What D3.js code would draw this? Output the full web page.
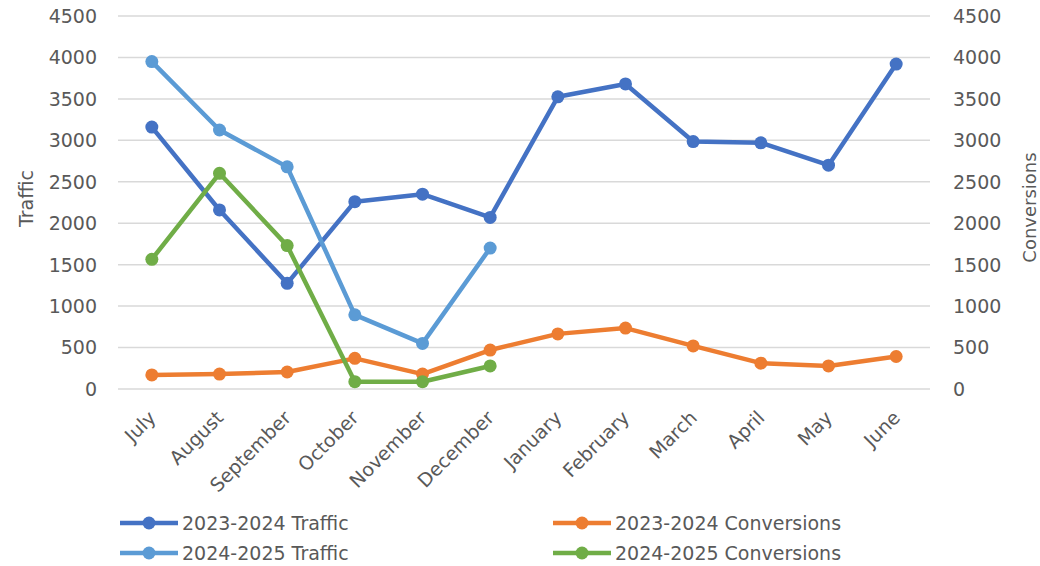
<!DOCTYPE html>
<html>
<head>
<meta charset="utf-8">
<script src="https://cdn.jsdelivr.net/npm/d3@7"></script>
<style>
    body { margin: 0; background: #fff; }
    text { font-family: "DejaVu Sans", sans-serif; fill: #595959; }
</style>
</head>
<body>
<div id="chart"></div>
<script>
var months = ["July", "August", "September", "October", "November", "December",
    "January", "February", "March", "April", "May", "June"];
var traffic2324 = [3160, 2160, 1275, 2260, 2350, 2070, 3525, 3680, 2985, 2970, 2700, 3920];
var traffic2425 = [3950, 3125, 2680, 895, 550, 1700];
var conv2324 = [170, 180, 205, 370, 180, 470, 665, 735, 520, 312, 278, 392];
var conv2425 = [1565, 2602, 1730, 88, 88, 278];
var yTicks = [0, 500, 1000, 1500, 2000, 2500, 3000, 3500, 4000, 4500];

var seriesList = [
    {name: "2023-2024 Traffic", values: traffic2324, color: "#4472C4", axis: "left"},
    {name: "2023-2024 Conversions", values: conv2324, color: "#ED7D31", axis: "right"},
    {name: "2024-2025 Traffic", values: traffic2425, color: "#5B9BD5", axis: "left"},
    {name: "2024-2025 Conversions", values: conv2425, color: "#70AD47", axis: "right"}
];

let margin = {top: 16, right: 110, bottom: 177, left: 118},
    width = 1040 - margin.left - margin.right,
    height = 566 - margin.top - margin.bottom;

var svg = d3.select("#chart").append("svg")
    .attr("width", 1040)
    .attr("height", 566)
    .append("g")
    .attr("transform", "translate(" + margin.left + "," + margin.top + ")");

var x = d3.scaleBand()
    .domain(months)
    .range([0, width]);

var yLeft = d3.scaleLinear().domain([0, 4500]).range([height, 0]);
var yRight = d3.scaleLinear().domain([0, 4500]).range([height, 0]);

// gridlines
svg.selectAll(".grid")
    .data(yTicks)
    .enter().append("line")
    .attr("x1", 0)
    .attr("x2", width)
    .attr("y1", function (d) { return yLeft(d); })
    .attr("y2", function (d) { return yLeft(d); })
    .attr("stroke", "#d9d9d9")
    .attr("stroke-width", 1.5);

// left axis labels
svg.selectAll(".ly")
    .data(yTicks)
    .enter().append("text")
    .attr("x", -21)
    .attr("y", function (d) { return yLeft(d); })
    .attr("dy", "0.36em")
    .attr("text-anchor", "end")
    .style("font-size", "19px")
    .text(function (d) { return d; });

// right axis labels
svg.selectAll(".ry")
    .data(yTicks)
    .enter().append("text")
    .attr("x", width + 23)
    .attr("y", function (d) { return yRight(d); })
    .attr("dy", "0.36em")
    .attr("text-anchor", "start")
    .style("font-size", "19px")
    .text(function (d) { return d; });

// month labels
svg.selectAll(".mx")
    .data(months)
    .enter().append("text")
    .attr("text-anchor", "end")
    .style("font-size", "19px")
    .attr("transform", function (d) {
        return "translate(" + (x(d) + x.bandwidth() / 2 + 5) + "," + (height + 30) + ") rotate(-45)";
    })
    .text(function (d) { return d; });

// axis titles
svg.append("text")
    .attr("transform", "translate(" + (-85) + "," + (height / 2 - 4) + ") rotate(-90)")
    .attr("text-anchor", "middle")
    .style("font-size", "19px")
    .text("Traffic");

svg.append("text")
    .attr("transform", "translate(" + (width + 106) + "," + (height / 2 + 5) + ") rotate(-90)")
    .attr("text-anchor", "middle")
    .style("font-size", "18px")
    .text("Conversions");

var cx = function (d, i) { return x(months[i]) + x.bandwidth() / 2; };

// conversions 23-24 first, then the traffic lines, green on top
var drawOrder = [1, 0, 2, 3];
drawOrder.forEach(function (k) {
    var s = seriesList[k];
    var yy = s.axis === "left" ? yLeft : yRight;
    var line = d3.line()
        .x(cx)
        .y(function (d) { return yy(d); });

    svg.append("path")
        .datum(s.values)
        .attr("fill", "none")
        .attr("stroke", s.color)
        .attr("stroke-width", 4.5)
        .attr("stroke-linejoin", "round")
        .attr("d", line);

    svg.selectAll(".dot" + k)
        .data(s.values)
        .enter().append("circle")
        .attr("cx", cx)
        .attr("cy", function (d) { return yy(d); })
        .attr("r", 6.5)
        .attr("fill", s.color);
});

// legend
var legendPos = [
    {x: 2, y: 523},
    {x: 435, y: 523},
    {x: 2, y: 553},
    {x: 435, y: 553}
];

var legend = svg.selectAll(".legend")
    .data(seriesList)
    .enter().append("g")
    .attr("class", "legend")
    .attr("transform", function (d, i) {
        return "translate(" + legendPos[i].x + "," + (legendPos[i].y - margin.top) + ")";
    });

legend.append("line")
    .attr("x1", 0)
    .attr("x2", 58)
    .attr("y1", 0)
    .attr("y2", 0)
    .attr("stroke", function (d) { return d.color; })
    .attr("stroke-width", 4.5);

legend.append("circle")
    .attr("cx", 29)
    .attr("cy", 0)
    .attr("r", 6.5)
    .attr("fill", function (d) { return d.color; });

legend.append("text")
    .attr("x", 62)
    .attr("y", 0)
    .attr("dy", "0.36em")
    .style("font-size", "19px")
    .text(function (d) { return d.name; });
</script>
</body>
</html>
